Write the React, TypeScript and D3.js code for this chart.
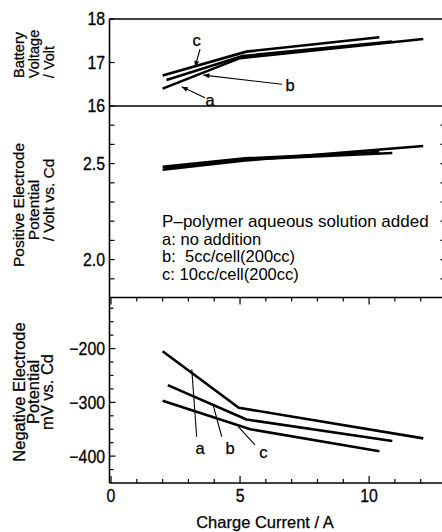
import React from 'react';
import * as d3 from 'd3';

// ---- data ----
const seriesNames = ['a', 'b', 'c'];

// Battery voltage / Volt vs charge current / A
const batteryA: [number, number][] = [[2.0, 16.40], [5.0, 17.10], [12.1, 17.54]];
const batteryB: [number, number][] = [[2.15, 16.60], [5.1, 17.15], [10.9, 17.48]];
const batteryC: [number, number][] = [[2.0, 16.70], [5.25, 17.25], [10.4, 17.58]];

// Positive electrode potential / Volt vs. Cd
const positiveA: [number, number][] = [[2.0, 2.468], [5.2, 2.516], [12.1, 2.592]];
const positiveB: [number, number][] = [[2.05, 2.475], [5.2, 2.521], [10.9, 2.555]];
const positiveC: [number, number][] = [[2.0, 2.483], [5.2, 2.527], [10.4, 2.560]];

// Negative electrode potential mV vs. Cd
const negativeA: [number, number][] = [[2.0, -205], [4.95, -310], [12.1, -367]];
const negativeB: [number, number][] = [[2.2, -268], [5.25, -332], [10.9, -372]];
const negativeC: [number, number][] = [[2.0, -297], [5.4, -350], [10.4, -391]];

const xTickLabels = [0, 5, 10];
const batteryTicks = [16, 17, 18];
const positiveTickLabels = [2.0, 2.5];
const negativeTickLabels = [-200, -300, -400];

const legendLines = [
  'P\u2013polymer aqueous solution added',
  'a: no addition',
  'b:  5cc/cell(200cc)',
  'c: 10cc/cell(200cc)',
];

// annotation labels: [label, labelX, labelY, fromX, fromY, toX, toY]
const batteryNotes: [string, number, number, number, number, number, number][] = [
  ['c', 3.32, 17.52, 3.45, 17.31, 3.26, 16.90],
  ['b', 6.94, 16.48, 6.62, 16.50, 3.58, 16.71],
  ['a', 3.84, 16.14, 3.64, 16.19, 2.74, 16.44],
];
const negativeNotes: [string, number, number, number, number, number, number][] = [
  ['a', 3.45, -385, 3.32, -364, 3.13, -239],
  ['b', 4.61, -385, 4.29, -364, 3.97, -307],
  ['c', 5.90, -393, 5.58, -379, 4.93, -345],
];

const W = 442;
const H = 532;
const FONT = "'Liberation Sans', Arial, Helvetica, sans-serif";

export default function App() {
  const x = d3.scaleLinear().domain([0, 13]).range([111, 446.5]);
  const y1 = d3.scaleLinear().domain([16, 18]).range([106, 19]);
  const y2 = d3.scaleLinear().domain([1.8, 2.8]).range([298, 106]);
  const y3 = d3.scaleLinear().domain([-450, -105]).range([483, 297.5]);

  const xLeft = x(0) - 1.5;
  const xRight = x(13);
  const yTop1 = y1(18);
  const yB12 = y1(16);
  const yB23 = 297.5;
  const yBottom = y3(-450);

  const line = (ys: d3.ScaleLinear<number, number>) =>
    d3.line<[number, number]>().x(d => x(d[0])).y(d => ys(d[1]));

  const batterySeries = [batteryA, batteryB, batteryC];
  const positiveSeries = [positiveA, positiveB, positiveC];
  const negativeSeries = [negativeA, negativeB, negativeC];

  const positiveMinor = d3.range(19, 28).map(v => v / 10);
  const negativeMinor = d3.range(-425, -100, 25);
  const xMinor = d3.range(0, 14);

  const arrowHead = (fx: number, fy: number, tx: number, ty: number) => {
    const ang = Math.atan2(ty - fy, tx - fx);
    const L = 6, Wd = 2.5;
    const bx = tx - L * Math.cos(ang), by = ty - L * Math.sin(ang);
    const px = -Math.sin(ang) * Wd, py = Math.cos(ang) * Wd;
    return `M${tx},${ty}L${bx + px},${by + py}L${bx - px},${by - py}Z`;
  };

  const yLabel = (lines: string[], centers: number[], size: number, cols: number[]) =>
    lines.map((t, i) => (
      <text key={t} transform={`translate(${cols[i]},${centers[i]}) rotate(-90)`}
        textAnchor="middle" fontSize={size} fontFamily={FONT} fill="#000"
        stroke="#000" strokeWidth={0.25}>{t}</text>
    ));

  const tickText = (key: string, tx: number, ty: number, anchor: string, label: string, dy = '0') => (
    <text key={key} transform={`translate(${tx},${ty}) scale(0.88,1)`} dy={dy}
      textAnchor={anchor as any} stroke="#000" strokeWidth={0.3}>{label}</text>
  );

  return (
    <svg width={W} height={H} style={{ position: 'absolute', left: 0, top: 0, display: 'block', background: '#fff' }}>
      <rect x={0} y={0} width={W} height={H} fill="#fff" />
      {/* frame */}
      <g stroke="#000" strokeWidth={1.6} fill="none">
        <line x1={xLeft} x2={xLeft} y1={yTop1} y2={yBottom} />
        <line x1={xRight} x2={xRight} y1={yTop1} y2={yBottom} />
        {[yTop1, yB12, yB23, yBottom].map((yy, i) => (
          <line key={i} x1={xLeft} x2={xRight + 2} y1={yy} y2={yy} />
        ))}
      </g>

      {/* ticks */}
      <g stroke="#000" strokeWidth={1.2}>
        {batteryTicks.map(v => (
          <line key={'bt' + v} x1={xLeft} x2={xLeft + 5} y1={y1(v)} y2={y1(v)} />
        ))}
        {positiveMinor.map(v => (
          <g key={'pm' + v}>
            <line x1={xLeft} x2={xLeft + 5} y1={y2(v)} y2={y2(v)} />
            <line x1={xRight} x2={xRight - 6} y1={y2(v)} y2={y2(v)} />
          </g>
        ))}
        {negativeMinor.map(v => (
          <line key={'nm' + v} x1={xLeft} x2={xLeft + (v % 100 === 0 ? 6 : 4)} y1={y3(v)} y2={y3(v)} />
        ))}
        {xMinor.map(v => (
          <g key={'xm' + v}>
            <line x1={x(v)} x2={x(v)} y1={yBottom} y2={yBottom - (v % 5 === 0 ? 7 : 4)} />
            <line x1={x(v)} x2={x(v)} y1={yB23} y2={yB23 + (v % 5 === 0 ? 7 : 4)} />
          </g>
        ))}
      </g>

      {/* tick labels */}
      <g fontFamily={FONT} fontSize={18} fill="#000">
        {batteryTicks.map(v => tickText('btl' + v, 105, y1(v), 'end', String(v), '0.36em'))}
        {positiveTickLabels.map(v => tickText('ptl' + v, 105, y2(v), 'end', v.toFixed(1), '0.36em'))}
        {negativeTickLabels.map(v => tickText('ntl' + v, 105, y3(v), 'end', '\u2212' + Math.abs(v), '0.36em'))}
        {xTickLabels.map(v => tickText('xtl' + v, x(v), 502, 'middle', String(v)))}
      </g>

      {/* axis titles */}
      {yLabel(['Battery', 'Voltage', '/ Volt'], [55, 54, 62], 14.5, [23.5, 38.5, 54])}
      {yLabel(['Positive Electrode', 'Potential', '/ Volt vs. Cd'], [205, 210, 200], 15.5, [24, 39, 54])}
      {yLabel(['Negative Electrode', 'Potential', 'mV vs. Cd'], [392, 392, 392], 16.5, [25, 39, 53])}
      <text x={265} y={528} textAnchor="middle" fontFamily={FONT} fontSize={16.5} fill="#000"
        stroke="#000" strokeWidth={0.25}>Charge Current / A</text>

      {/* data lines */}
      <g fill="none" stroke="#000" strokeWidth={2.6} strokeLinejoin="round">
        {batterySeries.map((s, i) => <path key={'b' + seriesNames[i]} d={line(y1)(s) || ''} />)}
        {positiveSeries.map((s, i) => <path key={'p' + seriesNames[i]} d={line(y2)(s) || ''} />)}
        {negativeSeries.map((s, i) => <path key={'n' + seriesNames[i]} d={line(y3)(s) || ''} />)}
      </g>

      {/* annotations */}
      <g fontFamily={FONT} fontSize={16.5} fill="#000">
        {batteryNotes.map(([t, lx, ly, fx, fy, tx, ty]) => (
          <g key={'bn' + t}>
            <line x1={x(fx)} y1={y1(fy)} x2={x(tx)} y2={y1(ty)} stroke="#000" strokeWidth={1.1} />
            <path d={arrowHead(x(fx), y1(fy), x(tx), y1(ty))} fill="#000" />
            <text x={x(lx)} y={y1(ly)} dy="0.35em" textAnchor="middle" stroke="#000" strokeWidth={0.25}>{t}</text>
          </g>
        ))}
        {negativeNotes.map(([t, lx, ly, fx, fy, tx, ty]) => (
          <g key={'nn' + t}>
            <line x1={x(fx)} y1={y3(fy)} x2={x(tx)} y2={y3(ty)} stroke="#000" strokeWidth={1.1} />
            <text x={x(lx)} y={y3(ly)} dy="0.35em" textAnchor="middle" stroke="#000" strokeWidth={0.25}>{t}</text>
          </g>
        ))}
      </g>

      {/* legend */}
      <g fontFamily={FONT} fill="#000">
        {legendLines.map((t, i) => (
          <text key={t} x={x(2) - 0.5} y={227 + i * 17.7} fontSize={i === 0 ? 17 : 16.5}
            style={{ whiteSpace: 'pre' }}>{t}</text>
        ))}
      </g>
    </svg>
  );
}
